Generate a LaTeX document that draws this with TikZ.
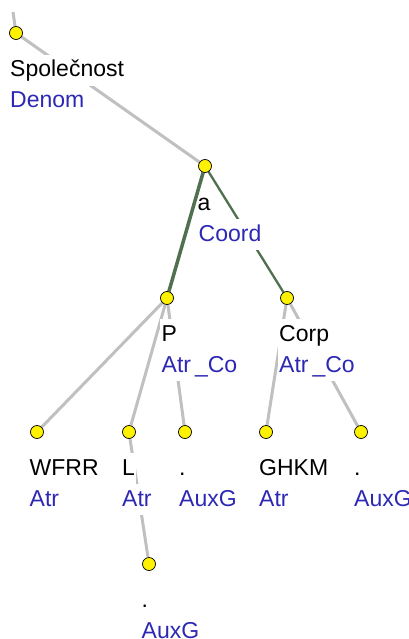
\documentclass[tikz,border=0pt]{standalone}
\usepackage{fontspec}
\setmainfont{Liberation Sans}
\definecolor{funcblue}{RGB}{45,40,180}
\definecolor{edgegray}{RGB}{192,192,192}
\definecolor{coordgreen}{RGB}{80,112,80}
\pgfdeclarelayer{paper}
\pgfdeclarelayer{bg}
\pgfsetlayers{paper,bg,main}
\newcommand{\atrco}{Atr\kern4pt\_Co}
\begin{document}
\begin{tikzpicture}[x=1pt,y=-1pt,
  tnode/.style={circle,draw=black,line width=0.7pt,fill=yellow,minimum size=13pt,inner sep=0pt},
  lab/.style={anchor=base west,fill=white,inner xsep=1.5pt,inner ysep=0pt,text height=22pt,text depth=9pt,font=\fontsize{23}{23}\selectfont},
  form/.style={lab,text=black},
  func/.style={lab,text=funcblue},
  gedge/.style={draw=edgegray,line width=3pt},
  cedge/.style={draw=coordgreen,line width=3.5pt},
  cedgethin/.style={draw=coordgreen,line width=2.3pt}]
\useasboundingbox (0,0) rectangle (409,639);
\clip (0,0) rectangle (409,639);
\begin{pgfonlayer}{paper}
\fill[white] (0,0) rectangle (409,639);
\end{pgfonlayer}
% header (cut off at top)
\node[anchor=base west,inner sep=0pt,font=\bfseries\fontsize{23}{23}\selectfont] (hdr) at (361,0.6) {m:2};
% tree nodes
\coordinate (up) at (13,12);
\node[tnode] (root) at (16,33) {};
\node[tnode] (a) at (205,166) {};
\node[tnode] (p) at (167,298) {};
\node[tnode] (corp) at (287,298) {};
\node[tnode] (wfrr) at (37,432) {};
\node[tnode] (l) at (129,432) {};
\node[tnode] (dot1) at (185,432) {};
\node[tnode] (ghkm) at (266,432) {};
\node[tnode] (dot2) at (361,432) {};
\node[tnode] (dot3) at (149,564) {};
\begin{pgfonlayer}{bg}
% edges
\draw[gedge] (up) -- (root);
\draw[gedge] (root) -- (a);
\draw[cedgethin] (a) -- (corp);
\draw[gedge] (p) -- (wfrr);
\draw[gedge] (p) -- (l);
\draw[gedge] (p) -- (dot1);
\draw[gedge] (corp) -- (ghkm);
\draw[gedge] (corp) -- (dot2);
\draw[gedge] (l) -- (dot3);
% labels
\node[form] (rootf) at (8.5,77) {Společnost};
\node[func] (rootr) at (8.5,108) {Denom};
\node[form] (af) at (196,210) {a};
\node[func] (ar) at (197,241) {Coord};
\node[form] (pf) at (160,341) {P};
\node[func] (pr) at (160,372) {\atrco};
\node[form] (corpf) at (277.5,341) {Corp};
\node[func] (corpr) at (277.5,372) {\atrco};
\node[form] (wfrrf) at (28,475) {WFRR};
\node[func] (wfrrr) at (28,506) {Atr};
\node[form] (lf) at (120.5,475) {L};
\node[func] (lr) at (120.5,506) {Atr};
\node[form] (dot1f) at (177.5,475) {.};
\node[func] (dot1r) at (177.5,506) {AuxG};
\node[form] (ghkmf) at (257.5,475) {GHKM};
\node[func] (ghkmr) at (257.5,506) {Atr};
\node[form] (dot2f) at (352.5,475) {.};
\node[func] (dot2r) at (352.5,506) {AuxG};
\node[form] (dot3f) at (140,607) {.};
\node[func] (dot3r) at (140,638) {AuxG};
% coordination edge drawn over labels
\draw[cedge] (a) -- (p);
\end{pgfonlayer}
\end{tikzpicture}
\end{document}
